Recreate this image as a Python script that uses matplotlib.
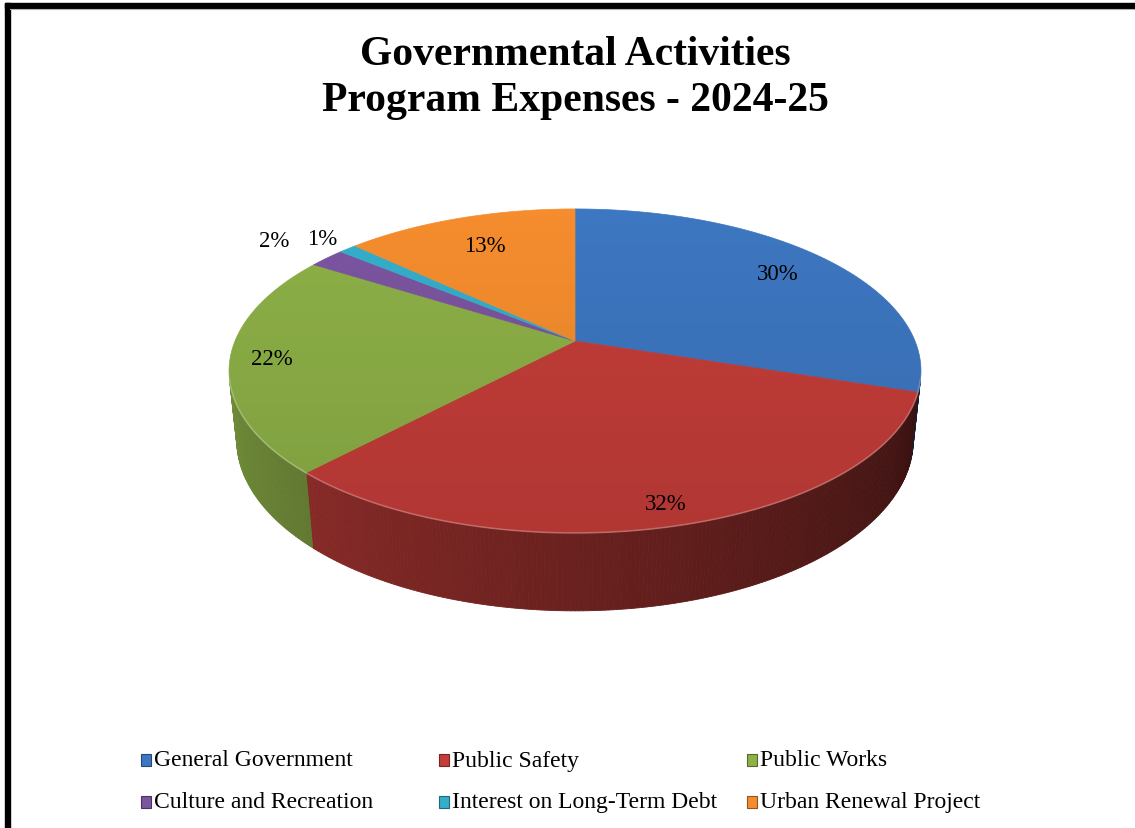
import numpy as np
import matplotlib

matplotlib.use("Agg")
import matplotlib.pyplot as plt
from matplotlib.patches import Polygon, Rectangle
from matplotlib.colors import to_rgb


TITLE = "Governmental Activities\nProgram Expenses - 2024-25"
CATEGORIES = [
    "General Government",
    "Public Safety",
    "Public Works",
    "Culture and Recreation",
    "Interest on Long-Term Debt",
    "Urban Renewal Project",
]
SHARES = [30, 32, 22, 2, 1, 13]
COLORS = ["#3D77C1", "#C43D39", "#8DB047", "#7B55A0", "#35AECB", "#F58D2E"]

# layout of the 3D pie (pixel space, perspective view)
CX, CY = 575, 342
SCALE = 340
TILT = np.radians(27.4)
DIST = 4.8
DEPTH = 0.23
LABEL_RADIUS = [0.80, 0.90, 0.88, 1.24, 1.13, 0.75]
LEGEND_POS = [(141, 761), (439, 761), (747, 761), (141, 803), (439, 803), (747, 803)]
SERIF = ["Liberation Serif", "DejaVu Serif"]


def project(theta, r, z):
    x = r * np.cos(theta)
    y = r * np.sin(theta)
    yc = y * np.sin(TILT) + z * np.cos(TILT)
    zc = y * np.cos(TILT) - z * np.sin(TILT)
    d = 1 + zc / DIST
    return CX + SCALE * x / d, CY - SCALE * yc / d


def shade(color, f):
    r, g, b = to_rgb(color)
    return (r * f, g * f, b * f)


def main() -> None:
    fig = plt.figure(figsize=(11.35, 8.29), dpi=100)
    ax = fig.add_axes([0, 0, 1, 1])
    ax.set_xlim(0, 1135)
    ax.set_ylim(829, 0)
    ax.axis("off")

    # frame
    ax.add_patch(Rectangle((5, 4), 1130, 5, color="black", zorder=10))
    ax.add_patch(Rectangle((5, 4), 5, 825, color="black", zorder=10))
    ax.plot([10, 1135], [10, 10], color="#b0b0b0", lw=0.8, zorder=10)

    total = float(sum(SHARES))
    bounds = []
    cum = 0.0
    for value in SHARES:
        start = np.radians(90 - cum / total * 360)
        cum += value
        end = np.radians(90 - cum / total * 360)
        bounds.append((end, start))

    # visible part of the cylinder wall
    vis_hi = np.arcsin(-1 / (DIST * np.cos(TILT)))
    vis_lo = -np.pi - vis_hi
    for (lo, hi), color in zip(bounds, COLORS):
        for shift in (-2 * np.pi, 0, 2 * np.pi):
            a = max(lo + shift, vis_lo)
            b = min(hi + shift, vis_hi)
            if b <= a:
                continue
            steps = max(2, int((b - a) / np.radians(0.6)))
            ts = np.linspace(a, b, steps + 1)
            for t0, t1 in zip(ts[:-1], ts[1:]):
                frac = ((t0 + t1) / 2 - vis_lo) / (vis_hi - vis_lo)
                f = 0.80 - 0.52 * frac
                pts = [project(t0, 1, 0), project(t1, 1, 0), project(t1, 1, -DEPTH), project(t0, 1, -DEPTH)]
                ax.add_patch(Polygon(pts, closed=True, facecolor=shade(color, f), edgecolor=shade(color, f), lw=0.6, zorder=2))

    # top faces
    for (lo, hi), color in zip(bounds, COLORS):
        ts = np.linspace(hi, lo, 120)
        pts = [(CX, CY)] + [project(t, 1, 0) for t in ts]
        ax.add_patch(Polygon(pts, closed=True, facecolor=color, edgecolor=color, lw=0.5, zorder=3))

    # soft vertical gradient on the top face
    rim = [project(t, 1, 0) for t in np.linspace(0, 2 * np.pi, 300)]
    clip = Polygon(rim, closed=True, transform=ax.transData, facecolor="none", edgecolor="none")
    ax.add_patch(clip)
    ys = np.linspace(0, 1, 200)[:, None]
    grad = np.zeros((200, 2, 4))
    grad[..., 3] = ys * 0.10
    img = ax.imshow(grad, extent=(200, 950, 545, 205), aspect="auto", zorder=4, interpolation="bilinear")
    img.set_clip_path(clip)
    ax.plot(*zip(*[project(t, 1, 0) for t in np.linspace(vis_lo, vis_hi, 200)]), color="white", alpha=0.25, lw=1.2, zorder=5)

    # percentage labels
    for (lo, hi), value, r in zip(bounds, SHARES, LABEL_RADIUS):
        mid = (lo + hi) / 2
        x, y = project(mid, r, 0)
        ax.text(x, y, f"{value / total * 100:.0f}%", ha="center", va="center",
                fontsize=16.5, family=SERIF, color="black", zorder=6)

    # title
    ax.text(575, 78, TITLE, ha="center", va="center", fontsize=30, fontweight="bold",
            family=SERIF, linespacing=1.3, zorder=6)

    # legend
    for (x, y), name, color in zip(LEGEND_POS, CATEGORIES, COLORS):
        ax.add_patch(Rectangle((x, y - 6), 10, 12, facecolor=color, edgecolor=shade(color, 0.6), lw=0.8, zorder=6))
        ax.text(x + 13, y, name, ha="left", va="center", fontsize=17, family=SERIF, zorder=6)

    fig.savefig("out.png", dpi=100, facecolor="white")


if __name__ == "__main__":
    main()
